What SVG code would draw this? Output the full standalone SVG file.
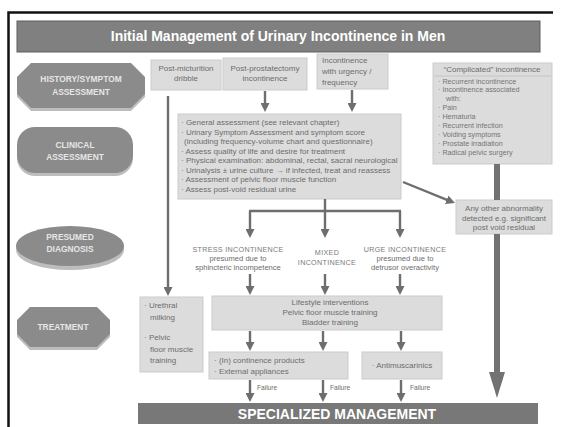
<svg xmlns="http://www.w3.org/2000/svg" width="561" height="427" viewBox="0 0 561 427">
<style>
  text { font-family: "Liberation Sans", Arial, sans-serif; }
  .box { fill: #dcdcdc; stroke: #cbcbcb; stroke-width: 1; }
  .t { font-size: 8px; fill: #6c6c6c; }
  .tc { font-size: 8px; fill: #6c6c6c; text-anchor: middle; }
  .ts { font-size: 7.2px; fill: #747474; }
  .dx { font-size: 7.2px; fill: #7a7a7a; text-anchor: middle; letter-spacing: 0.3px; }
  .lbl { fill: #8b8b8b; }
  .shd { fill: #bdbdbd; }
  .lt { font-size: 8.4px; font-weight: bold; fill: #e6e6e6; text-anchor: middle; }
  .bar { fill: #808080; stroke: #5e5e5e; stroke-width: 1; }
  .bt { font-size: 14px; font-weight: bold; fill: #ffffff; text-anchor: middle; }
  .fl { font-size: 6.6px; fill: #6c6c6c; }
  .c { stroke: #6e6e6e; stroke-width: 2.4; fill: none; }
  .thick { stroke: #727272; stroke-width: 6; fill: none; }
</style>
<defs>
  <marker id="ah" viewBox="0 0 9 9" refX="1" refY="4.5" markerWidth="9" markerHeight="9" markerUnits="userSpaceOnUse" orient="auto">
    <path d="M0,0 L9,4.5 L0,9 z" fill="#6e6e6e"/>
  </marker>
  <marker id="ahBig" viewBox="0 0 26 16" refX="1" refY="8" markerWidth="26" markerHeight="16" markerUnits="userSpaceOnUse" orient="auto">
    <path d="M0,0 L26,8 L0,16 z" fill="#727272"/>
  </marker>
</defs>

<!-- page frame -->
<rect x="0" y="0" width="561" height="427" fill="#ffffff"/>
<path d="M8.5,430 V12.5 H553" fill="none" stroke="#111" stroke-width="2.5"/>

<!-- title -->
<g id="title">
  <rect class="bar" x="17" y="21" width="523" height="31"/>
  <text class="bt" x="278" y="41">Initial Management of Urinary Incontinence in Men</text>
</g>

<!-- stage labels -->
<g id="lbl-history">
  <polygon class="shd" points="31,66 131,66 145,80 145,97 131,111 31,111 17,97 17,80"/>
  <polygon class="lbl" points="31,63 131,63 145,77 145,94 131,108 31,108 17,94 17,77"/>
  <text class="lt" x="81" y="82">HISTORY/SYMPTOM</text>
  <text class="lt" x="81" y="95">ASSESSMENT</text>
</g>
<g id="lbl-clinical">
  <rect class="shd" x="17" y="130" width="116" height="46" rx="18"/>
  <rect class="lbl" x="17" y="127" width="116" height="46" rx="18"/>
  <text class="lt" x="75" y="148">CLINICAL</text>
  <text class="lt" x="75" y="160">ASSESSMENT</text>
</g>
<g id="lbl-diagnosis">
  <ellipse class="shd" cx="70" cy="250" rx="54" ry="20"/>
  <ellipse class="lbl" cx="70" cy="246" rx="54" ry="20"/>
  <text class="lt" x="70" y="240">PRESUMED</text>
  <text class="lt" x="70" y="252">DIAGNOSIS</text>
</g>
<g id="lbl-treatment">
  <polygon class="shd" points="30,310 97,310 110,323 110,337 97,350 30,350 17,337 17,323"/>
  <polygon class="lbl" points="30,307 97,307 110,320 110,334 97,347 30,347 17,334 17,320"/>
  <text class="lt" x="63" y="330">TREATMENT</text>
</g>

<!-- presenting complaints -->
<g id="n-dribble">
  <rect class="box" x="151" y="60" width="70" height="30"/>
  <text class="tc" x="186" y="71">Post-micturition</text>
  <text class="tc" x="186" y="81">dribble</text>
</g>
<g id="n-postprost">
  <rect class="box" x="223" y="58" width="84" height="32"/>
  <text class="tc" x="265" y="71">Post-prostatectomy</text>
  <text class="tc" x="265" y="81">incontinence</text>
</g>
<g id="n-urgency">
  <rect class="box" x="317" y="54" width="71" height="35"/>
  <text class="t" x="322" y="63">Incontinence</text>
  <text class="t" x="322" y="74">with urgency /</text>
  <text class="t" x="322" y="85">frequency</text>
</g>

<!-- complicated incontinence -->
<g id="n-complicated">
  <rect class="box" x="433" y="63" width="119" height="101"/>
  <text class="tc" x="492" y="72">“Complicated” incontinence</text>
  <line x1="434" y1="76" x2="551" y2="76" stroke="#c4c4c4" stroke-width="1"/>
  <text class="ts" x="438" y="84">· Recurrent incontinence</text>
  <text class="ts" x="438" y="92">· Incontinence associated</text>
  <text class="ts" x="446" y="101">with:</text>
  <text class="ts" x="438" y="110">· Pain</text>
  <text class="ts" x="438" y="119">· Hematuria</text>
  <text class="ts" x="438" y="128">· Recurrent infection</text>
  <text class="ts" x="438" y="137">· Voiding symptoms</text>
  <text class="ts" x="438" y="146">· Prostate irradiation</text>
  <text class="ts" x="438" y="155">· Radical pelvic surgery</text>
</g>

<!-- clinical assessment -->
<g id="n-assessment">
  <rect class="box" x="178" y="114" width="223" height="85"/>
  <text class="t" x="181" y="125">· General assessment  (see relevant chapter)</text>
  <text class="t" x="181" y="134.5">· Urinary Symptom Assessment and symptom score</text>
  <text class="t" x="184" y="144">(including frequency-volume chart and questionnaire)</text>
  <text class="t" x="181" y="153.5">· Assess quality of life and desire for treatment</text>
  <text class="t" x="181" y="163">· Physical examination: abdominal, rectal, sacral neurological</text>
  <text class="t" x="181" y="172.5">· Urinalysis ± urine culture → if infected, treat and reassess</text>
  <text class="t" x="181" y="182">· Assessment of pelvic floor muscle function</text>
  <text class="t" x="181" y="191.5">· Assess post-void residual urine</text>
</g>

<g id="n-other">
  <rect class="box" x="456" y="200" width="96" height="34"/>
  <text class="tc" x="504" y="211">Any other abnormality</text>
  <text class="tc" x="504" y="220.5">detected e.g. significant</text>
  <text class="tc" x="504" y="230">post void residual</text>
</g>

<!-- presumed diagnoses -->
<g id="n-stress">
  <text class="dx" x="238" y="252">STRESS  INCONTINENCE</text>
  <text class="tc" x="238" y="261" style="font-size:7.6px">presumed due to</text>
  <text class="tc" x="238" y="270" style="font-size:7.6px">sphincteric incompetence</text>
</g>
<g id="n-mixed">
  <text class="dx" x="327" y="255">MIXED</text>
  <text class="dx" x="327" y="265">INCONTINENCE</text>
</g>
<g id="n-urge">
  <text class="dx" x="405" y="252">URGE INCONTINENCE</text>
  <text class="tc" x="405" y="261" style="font-size:7.6px">presumed due to</text>
  <text class="tc" x="405" y="270" style="font-size:7.6px">detrusor overactivity</text>
</g>

<!-- treatment -->
<g id="n-milking">
  <rect class="box" x="140" y="297" width="63" height="75"/>
  <text class="t" x="144" y="308">· Urethral</text>
  <text class="t" x="150" y="320">milking</text>
  <text class="t" x="144" y="340">· Pelvic</text>
  <text class="t" x="150" y="352">floor muscle</text>
  <text class="t" x="150" y="363">training</text>
</g>
<g id="n-lifestyle">
  <rect class="box" x="212" y="296" width="230" height="34"/>
  <text class="tc" x="330" y="305" fill="#5a5a5a">Lifestyle interventions</text>
  <text class="tc" x="330" y="315">Pelvic floor muscle training</text>
  <text class="tc" x="330" y="325">Bladder  training</text>
</g>
<g id="n-products">
  <rect class="box" x="209" y="352" width="139" height="27"/>
  <text class="t" x="214" y="363">· (In) continence products</text>
  <text class="t" x="214" y="374">· External appliances</text>
</g>
<g id="n-antimusc">
  <rect class="box" x="362" y="352" width="80" height="27"/>
  <text class="tc" x="402" y="368">· Antimuscarinics</text>
</g>

<g id="n-specialized">
  <rect x="138" y="403" width="400" height="21" fill="#787878"/>
  <text class="bt" x="337" y="419">SPECIALIZED MANAGEMENT</text>
</g>

<!-- connectors -->
<g id="connectors">
  <line class="c" x1="168" y1="96" x2="168" y2="288" marker-end="url(#ah)"/>
  <line class="c" x1="265" y1="91" x2="265" y2="104" marker-end="url(#ah)"/>
  <line class="c" x1="352" y1="90" x2="352" y2="104" marker-end="url(#ah)"/>
  <path class="c" d="M325,199 V211 M249,211 H401"/>
  <line class="c" x1="250" y1="211" x2="250" y2="230" marker-end="url(#ah)"/>
  <line class="c" x1="325" y1="211" x2="325" y2="230" marker-end="url(#ah)"/>
  <line class="c" x1="400" y1="211" x2="400" y2="230" marker-end="url(#ah)"/>
  <line class="c" x1="250" y1="274" x2="250" y2="287" marker-end="url(#ah)"/>
  <line class="c" x1="325" y1="274" x2="325" y2="287" marker-end="url(#ah)"/>
  <line class="c" x1="400" y1="274" x2="400" y2="287" marker-end="url(#ah)"/>
  <line class="c" x1="250" y1="331" x2="250" y2="343" marker-end="url(#ah)"/>
  <line class="c" x1="323" y1="331" x2="323" y2="343" marker-end="url(#ah)"/>
  <line class="c" x1="401" y1="331" x2="401" y2="343" marker-end="url(#ah)"/>
  <line class="c" x1="250" y1="380" x2="250" y2="394" marker-end="url(#ah)"/>
  <line class="c" x1="323" y1="380" x2="323" y2="394" marker-end="url(#ah)"/>
  <line class="c" x1="401" y1="380" x2="401" y2="394" marker-end="url(#ah)"/>
  <line class="c" x1="403" y1="182" x2="447.6" y2="200.1" marker-end="url(#ah)"/>
  <line class="thick" x1="497" y1="164" x2="497" y2="200"/>
  <line class="thick" x1="497" y1="234" x2="497" y2="373" marker-end="url(#ahBig)"/>
  <text class="fl" x="257" y="390">Failure</text>
  <text class="fl" x="330" y="390">Failure</text>
  <text class="fl" x="410" y="390">Failure</text>
</g>
</svg>
